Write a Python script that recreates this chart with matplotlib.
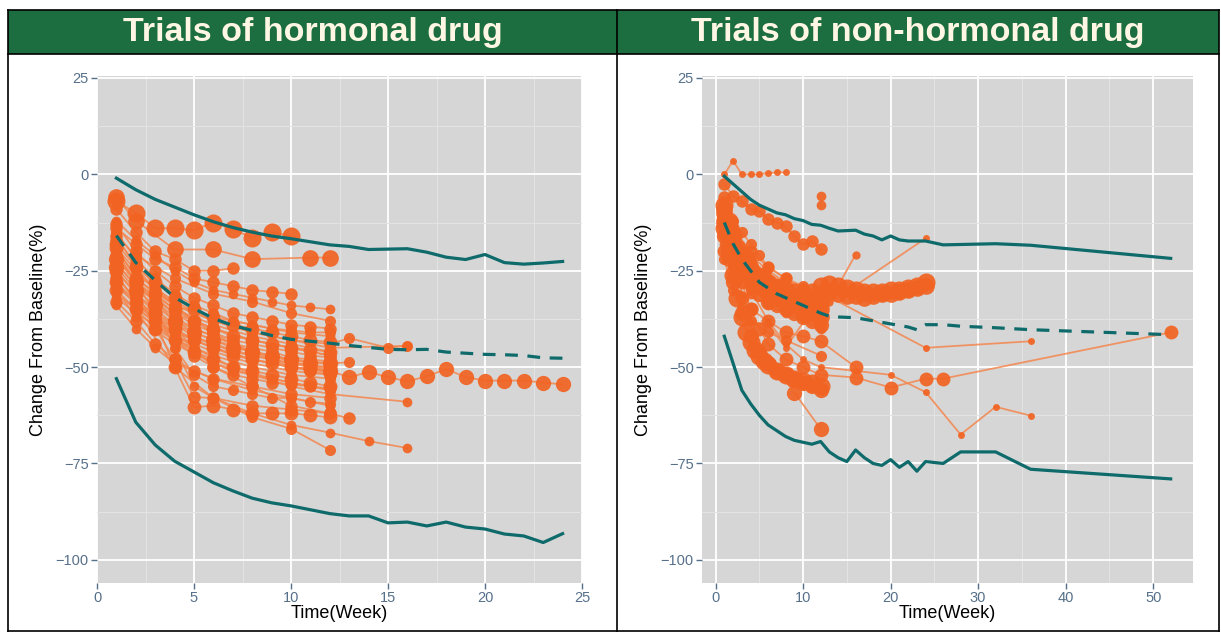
import matplotlib
matplotlib.use('Agg')
import matplotlib.pyplot as plt
from matplotlib.patches import Rectangle
from matplotlib.lines import Line2D
from matplotlib.ticker import MultipleLocator

plt.rcParams['font.family'] = ['Liberation Sans', 'DejaVu Sans']

# ---------------- data: hormonal drug trials ----------------
hor_weeks = [
    [1, 2, 3, 4, 5, 6, 7, 8, 9, 10],
    [1, 2, 4, 6, 8, 11, 12],
    [1, 2, 3, 4, 5, 6, 7],
    [1, 2, 4, 6, 8, 10, 12],
    [1, 2, 3, 4, 5, 6, 7, 8, 9, 10, 11, 12],
    [1, 2, 4, 6, 8, 10, 12, 16],
    [1, 2, 4, 6, 8, 10, 12, 13, 15, 16],
    [1, 2, 3, 4, 5, 6, 7, 8, 9, 10, 11, 12],
    [1, 2, 3, 4, 5, 6, 7, 8, 9, 10, 11, 12],
    [1, 2, 4, 6, 8, 10, 12, 13],
    [1, 2, 3, 4, 5, 6, 8, 10, 12],
    [1, 2, 3, 4, 6, 8, 10, 12],
    [1, 2, 4, 8, 12, 13, 14, 15, 16, 17, 18, 19, 20, 21, 22, 23, 24],
    [1, 2, 3, 4, 5, 6, 7, 8, 9, 10, 11, 12],
    [1, 2, 4, 6, 8, 10, 12],
    [1, 2, 3, 4, 5, 6, 7, 8, 10, 12],
    [1, 2, 4, 6, 8, 10, 12, 16],
    [1, 2, 3, 4, 5, 6, 8, 10, 12],
    [2, 3, 4, 5, 6, 8, 10, 12],
    [3, 4, 5, 6, 7, 8, 9, 10, 11, 12],
    [3, 4, 5, 6, 8, 10, 12, 14, 16],
    [2, 4, 6, 8, 10, 12],
    [4, 6, 8, 10, 12, 13],
    [1, 2, 3, 4, 5, 6, 7, 8, 9, 10, 11, 12],
    [1, 2, 3, 4, 6, 8, 10, 12],
    [1, 2, 4, 6, 8, 10, 12],
    [1, 2, 3, 4, 5, 6, 7, 8, 9, 10, 11, 12],
    [1, 2, 3, 4, 5, 6, 7, 8, 9, 10],
    [1, 2, 3, 4, 5, 6, 7, 8, 9, 10, 11, 12],
    [1, 3, 5, 7, 9, 11, 12],
    [1, 2, 3, 4, 5, 6, 7, 8, 9, 10, 11, 12],
    [1, 2, 4, 6, 8, 10, 12],
    [1, 2, 3, 4, 5, 6, 7, 8, 9, 10, 11, 12],
    [1, 2, 3, 4, 5, 6, 7, 8, 9, 10, 11, 12],
    [1, 2, 4, 6, 8, 10, 12],
    [1, 2, 3, 4, 5, 6, 7, 8, 9, 10, 11, 12],
    [1, 2, 3, 4, 6, 8, 10, 12],
    [2, 3, 4, 5, 6, 7, 8, 9, 10, 11, 12],
    [1, 2, 4, 6, 8, 10, 12],
    [1, 2, 3, 4, 5, 6, 8, 10, 12],
    [4, 5, 6, 7, 8, 9, 10, 11, 12],
    [1, 2, 3, 4, 5, 6, 7, 8, 9, 10, 11, 12],
]
hor_values = [
    [-7, -10, -14, -14, -14.5, -12.5, -14.3, -16.4, -15, -16],
    [-6, -12, -19.5, -19.5, -22, -21.6, -21.6],
    [-9, -15, -20, -22, -25, -25, -24.4],
    [-16, -21, -27, -31, -33, -36, -38],
    [-18, -24, -28, -32, -35, -37, -39, -40, -41, -42, -43, -43.5],
    [-20, -26, -33, -38, -41, -43, -45, -44.5],
    [-22, -27, -34, -38, -41, -43, -44, -42.5, -45, -44.4],
    [-21, -28, -32, -36, -39, -41, -43, -44, -45, -46, -47, -47.5],
    [-24, -30, -34, -38, -41, -43, -45, -46, -47, -48, -49, -49],
    [-25, -31, -39, -43, -46, -48, -49, -48.8],
    [-27, -32, -37, -40, -43, -45, -48, -50, -51],
    [-28, -34, -39, -43, -47, -50, -52, -53],
    [-22, -28, -38, -46, -51, -52.6, -51.3, -52.6, -53.7, -52.4, -50.5, -52.6, -53.5, -53.5, -53.5, -54, -54.5],
    [-30, -35, -40, -43, -46, -48, -50, -51, -52, -53, -54, -55],
    [-32, -36, -42, -46, -49, -51, -52],
    [-26, -33, -38, -42, -46, -49, -51, -52, -54, -56],
    [-30, -37, -44, -49, -52, -55, -57, -59],
    [-33, -38, -44, -48, -51, -53, -55, -57, -58],
    [-30, -40, -48, -57.8, -58, -60, -61, -62],
    [-38, -50, -60.4, -60, -61, -62, -62, -62, -62.5, -63],
    [-35, -45, -55, -58, -62, -65, -67, -69.2, -71],
    [-35, -50, -58, -63, -66, -71.5],
    [-40, -50, -55, -60, -62, -63.3],
    [-15, -22, -27, -31, -34, -36, -38, -39, -40, -40.5, -41, -41],
    [-19, -25, -30, -34, -37, -39, -41, -42],
    [-23, -29, -36, -40, -43, -45, -47],
    [-12, -17, -21, -25, -28, -30, -31, -32, -33, -34, -34.5, -35],
    [-14, -18, -22, -24, -27, -28, -29, -30, -30.5, -31],
    [-28, -33, -36, -39, -42, -44, -46, -47, -48, -49, -50, -50],
    [-29, -38, -45, -50, -53, -55, -56],
    [-17, -23, -29, -34, -38, -41, -44, -46, -48, -50, -51, -52],
    [-31, -35, -41, -45, -48, -50, -51],
    [-19, -27, -31, -35, -38, -40, -42, -43, -44, -45, -45.5, -46],
    [-23, -29, -33, -37, -40, -42, -44, -45, -46, -47.5, -48, -48.5],
    [-26, -33, -41, -44, -47, -49, -50],
    [-25, -31, -36, -40, -43, -45, -47, -48, -49, -50, -50.5, -51.5],
    [-34, -40, -45, -49, -53, -56, -58, -60],
    [-28, -36, -43, -47, -50, -52, -53, -54, -54.5, -55, -55.5],
    [-20, -28, -35, -39, -42, -44, -46],
    [-16, -24, -30, -34, -38, -40, -43, -45, -47],
    [-45, -52, -55, -56, -57, -58, -58, -59, -59.5],
    [-13, -20, -25, -29, -32, -34, -36, -37, -38, -39, -39.5, -40],
]
hor_sizes = [13, 12, 9, 8, 10, 7, 8, 9, 11, 8, 9, 8, 11, 10, 7, 8, 7, 9, 9, 10, 7, 8, 9,
             8, 7, 8, 7, 9, 10, 8, 9, 7, 10, 9, 8, 10, 7, 9, 8, 9, 8, 9]

hor_env_weeks = list(range(1, 25))
hor_upper = [-1, -4, -6.5, -8.5, -10.5, -12.3, -13.8, -15, -16, -16.7, -17.5, -18.3,
             -18.7, -19.5, -19.4, -19.3, -20.2, -21.5, -22.1, -20.8, -22.9, -23.3, -23, -22.6]
hor_lower = [-53, -64.3, -70.2, -74.4, -77.2, -80, -82.1, -84, -85.2, -86, -87, -88,
             -88.6, -88.6, -90.4, -90.2, -91.2, -90.2, -91.5, -92, -93.3, -93.8, -95.5, -93.2]
hor_mean = [-15.9, -22.9, -27.5, -31.9, -34.8, -37.4, -39.2, -40.5, -41.8, -42.8, -43.3, -43.8,
            -44.4, -44.9, -45.4, -45.5, -45.4, -46.1, -46.4, -46.7, -46.8, -47, -47.6, -47.7]

# ---------------- data: non-hormonal drug trials ----------------
non_weeks = [
    [1, 2, 3, 4, 5, 6, 7, 8],
    [12],
    [12],
    [1, 2, 3, 4, 5, 6, 7, 8, 9, 10, 11, 12],
    [1, 2, 3, 4, 5, 6, 8, 10, 12],
    [1, 1.5, 2, 2.5, 3, 3.5, 4, 5, 6, 7, 8, 9, 10, 11, 12, 13, 14, 15, 16, 17, 18, 19, 20, 21, 22, 23, 24],
    [1, 1.5, 2, 2.5, 3, 3.5, 4, 4.5, 5, 5.5, 6, 7, 8, 9, 10, 11, 12],
    [1, 2, 3, 4, 5, 6, 7, 8, 9, 10, 11, 12],
    [9, 12],
    [1, 4, 8, 12, 13, 16],
    [1, 2, 4, 6, 8, 10, 12, 24],
    [1, 2, 4, 6, 8, 10, 12, 24, 36],
    [1, 2, 3, 4, 5, 6, 8, 10, 12, 16, 20, 24, 26, 52],
    [2, 4, 6, 8, 10, 12, 16, 20, 24, 28, 32, 36],
    [1, 4, 6, 8, 12],
    [1, 2, 3, 4, 5, 6, 7, 8, 9, 10, 11, 12],
    [1, 2, 3, 4, 5, 6, 7, 8, 9, 10, 11, 12],
    [1, 2, 4, 6, 8, 10, 12],
    [1, 2, 3, 4, 6, 8, 10, 12],
    [1, 2, 4, 6, 8, 12],
    [1, 2, 3, 4, 5, 6, 8, 10, 12],
    [1, 2, 3, 4, 6, 8, 10, 12, 16],
    [1, 2, 3, 4, 6, 8, 12],
    [1, 2, 4, 6, 8, 10, 12],
    [1, 1.5, 2, 2.5, 3, 3.5, 4, 5, 6, 7, 8, 9, 10, 11, 12, 13, 14, 15, 16, 17, 18, 19, 20, 21, 22, 23, 24],
    [1, 2, 3, 4, 5, 6, 7, 8, 9, 10, 11, 12],
    [1, 2, 3, 4, 5, 6, 7, 8, 9, 10, 11, 12],
    [1, 1.5, 2, 3, 4, 5, 6, 7, 8, 9, 10, 11, 12],
]
non_values = [
    [0, 3.5, 0, 0, 0, 0.3, 0.5, 0.5],
    [-5.7],
    [-8],
    [-2.6, -5.6, -6.9, -9.1, -9.5, -11.7, -12.5, -13.5, -16.1, -18.2, -17.3, -19.5],
    [-8, -12, -15, -18, -21, -24, -27, -29, -31],
    [-8, -12, -16, -19, -21, -23, -25, -27, -28.5, -29.5, -30, -30.5, -31, -30.5, -29, -28.5,
     -29, -29.5, -30, -30.5, -30.5, -30.5, -30, -30, -29.5, -29, -28],
    [-14, -20, -26, -32, -37, -41, -43.5, -45.5, -47, -48.5, -49.5, -51, -52, -53, -53.5, -54, -55],
    [-10, -18, -22, -25, -27, -28, -30, -31, -32, -33, -34, -35],
    [-56.6, -66],
    [-10, -22, -30, -35, -33, -20.8],
    [-9, -15, -21, -25, -28, -31, -35, -16.6],
    [-10, -16, -22, -26, -28, -29, -30.6, -45, -43.3],
    [-12, -20, -28, -35, -40, -44, -48, -50, -52, -52.7, -55.3, -53, -53, -41],
    [-20, -30, -38, -44, -48, -50, -51, -52, -56.5, -67.5, -60.3, -62.6],
    [-15, -38.4, -38.8, -45, -32],
    [-12, -20, -24, -27, -29, -31, -32, -33, -34, -35, -36, -37],
    [-9, -17, -21, -24, -26, -28, -29, -31, -32, -33, -33.5, -34],
    [-6, -14, -20, -24, -27, -30, -32],
    [-15, -22, -26, -29, -32, -34, -36, -38],
    [-18, -26, -31, -34, -36, -40],
    [-9, -16, -20, -23, -26, -29, -31, -33, -34],
    [-20, -27, -32, -35, -38, -41, -42, -43.3, -50],
    [-22, -30, -35, -38, -41, -43, -47],
    [-16, -24, -30, -33, -35, -37, -39],
    [-9, -14, -18, -21, -23, -25, -27, -29, -30, -31, -31.5, -32, -32.5, -32, -31, -30.5,
     -31, -31.5, -31.5, -32, -31.5, -31, -31, -30.5, -30, -29.5, -29],
    [-11, -19, -23, -26, -28, -30, -31, -32, -33, -34, -35, -36],
    [-13, -21, -25, -28, -31, -33, -34, -35, -36, -37, -38, -39],
    [-16, -22, -28, -36, -42, -46, -49, -51, -52, -53, -54, -55, -56],
]
non_sizes = [5, 7, 7, 9, 8, 13, 13, 12, 11, 6, 5, 5, 10, 5, 5, 12, 11, 9, 9, 7, 9, 10, 8, 8,
             12, 11, 11, 11]

non_env_weeks = [1, 2, 3, 4, 5, 6, 7, 8, 9, 10, 11, 12, 13, 14, 15, 16, 17, 18, 19, 20, 21, 22, 23,
                 24, 26, 28, 32, 36, 52]
non_upper = [-0.5, -2.5, -4.5, -6.5, -8, -9, -10, -10.5, -11.5, -12, -13, -13.2, -14, -14.7, -14.6,
             -14.5, -15.5, -16, -17, -16, -17, -17.3, -17.3, -17.3, -18.3, -18.2, -18, -18.4, -21.8]
non_lower = [-42, -49, -56, -59.5, -62.5, -65, -66.5, -68, -69, -69.5, -70, -69.3, -72, -73.5, -74.5,
             -71.5, -73.5, -75, -75.5, -74, -76, -74.5, -77, -74.5, -75, -72, -72, -76.5, -79]
non_mean_weeks = [1, 2, 3, 4, 5, 6, 7, 8, 9, 10, 11, 12, 13, 14, 16, 18, 20, 22, 23, 24, 26, 28,
                  32, 36, 52]
non_mean = [-12.5, -18, -22, -25, -28, -29.5, -31, -32, -33, -34, -35, -36, -36.8, -37, -37.2,
            -38, -38.8, -39.6, -40.3, -39, -39, -39.4, -39.8, -40.3, -41.6]

titles = ['Trials of hormonal drug', 'Trials of non-hormonal drug']

# ---------------- style ----------------
ORANGE = '#F26322'
LINE_OR = '#F4874F'
TEAL = '#0F6B6B'
GREEN = '#1C6E40'
PANEL = '#D6D6D6'
TICKC = '#56708A'

W, H = 1221, 632
fig = plt.figure(figsize=(W / 100, H / 100), dpi=100)
fig.patch.set_facecolor('white')


def fx(px):
    return px / W


def fy(py):
    return 1 - py / H


# header bands and borders
for x0, x1, t in [(8, 617, titles[0]), (617, 1219, titles[1])]:
    fig.patches.append(Rectangle((fx(x0), fy(54)), fx(x1 - x0), (54 - 10) / H,
                                 transform=fig.transFigure, facecolor=GREEN,
                                 edgecolor='none', zorder=0))
    fig.text(fx((x0 + x1) / 2), fy(33), t, ha='center', va='center', fontsize=24.5,
             fontweight='bold', color='#FFF6E3')
for seg in [([8, 1219], [10, 10]), ([8, 1219], [54, 54]), ([8, 8], [10, 632]),
            ([617, 617], [10, 632]), ([1219, 1219], [10, 632]), ([8, 1219], [631, 631])]:
    fig.lines.append(Line2D([fx(v) for v in seg[0]], [fy(v) for v in seg[1]],
                            transform=fig.transFigure, color='black', lw=1.2))


def style_axes(ax, xmaj, xmin):
    ax.set_facecolor(PANEL)
    for s in ax.spines.values():
        s.set_visible(False)
    ax.xaxis.set_major_locator(MultipleLocator(xmaj))
    ax.xaxis.set_minor_locator(MultipleLocator(xmin))
    ax.yaxis.set_major_locator(MultipleLocator(25))
    ax.yaxis.set_minor_locator(MultipleLocator(12.5))
    ax.grid(which='major', color='white', lw=1.3)
    ax.grid(which='minor', color='#E4E4E4', lw=0.7)
    ax.set_axisbelow(True)
    ax.tick_params(which='major', length=4, width=1, color=TICKC, labelcolor=TICKC,
                   labelsize=10.5, pad=2)
    ax.tick_params(which='minor', length=0)
    ax.set_ylim(-106, 25.5)
    ax.set_ylabel('Change From Baseline(%)', fontsize=13, labelpad=6)
    ax.set_xlabel('Time(Week)', fontsize=13, labelpad=0)


def draw_trials(ax, weeks, values, sizes):
    for w, v, s in zip(weeks, values, sizes):
        ax.plot(w, v, color=LINE_OR, lw=1.3, alpha=0.85, zorder=2)
        ax.plot(w, v, 'o', color=ORANGE, ms=s, mec='none', alpha=0.92, zorder=3)


# left panel
ax1 = fig.add_axes([fx(97), fy(583), fx(582 - 97), (583 - 76) / H])
style_axes(ax1, 5, 2.5)
ax1.set_xlim(0, 25)
draw_trials(ax1, hor_weeks, hor_values, hor_sizes)
ax1.plot(hor_env_weeks, hor_upper, color=TEAL, lw=2.3, zorder=4)
ax1.plot(hor_env_weeks, hor_lower, color=TEAL, lw=2.3, zorder=4)
ax1.plot(hor_env_weeks, hor_mean, color=TEAL, lw=2.3, ls=(0, (4, 3)), zorder=4)

# right panel
ax2 = fig.add_axes([fx(702), fy(583), fx(1193 - 702), (583 - 76) / H])
style_axes(ax2, 10, 5)
ax2.set_xlim(-1.55, 54.55)
draw_trials(ax2, non_weeks, non_values, non_sizes)
ax2.plot(non_env_weeks, non_upper, color=TEAL, lw=2.3, zorder=4)
ax2.plot(non_env_weeks, non_lower, color=TEAL, lw=2.3, zorder=4)
ax2.plot(non_mean_weeks, non_mean, color=TEAL, lw=2.3, ls=(0, (4, 3)), zorder=4)

fig.savefig('out.png', dpi=100)
